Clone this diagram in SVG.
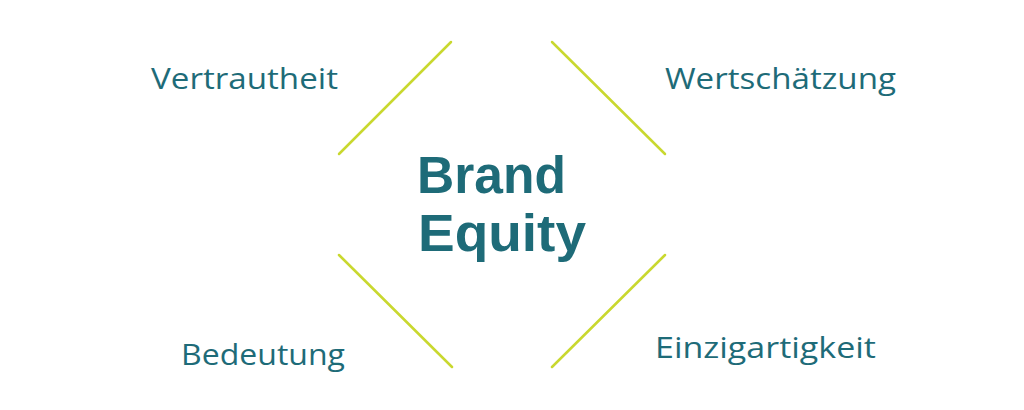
<svg xmlns="http://www.w3.org/2000/svg" width="1024" height="410" viewBox="0 0 1024 410">
<style>
.lbl{font-family:"Open Sans","Noto Sans",sans-serif;font-size:29px;fill:#1e6b78;}
.ctr{font-family:"Liberation Sans","Open Sans",sans-serif;font-size:51px;font-weight:700;fill:#1e6b78;}
.conn line{stroke:#c9d82f;stroke-width:2.5;stroke-linecap:round;}
</style>
<rect width="1024" height="410" fill="#ffffff"/>
<g id="connectors" class="conn">
<line x1="339" y1="154" x2="451" y2="42"/>
<line x1="552" y1="42" x2="665" y2="154"/>
<line x1="339" y1="255" x2="452" y2="367"/>
<line x1="665" y1="255" x2="552" y2="367"/>
</g>
<g id="brand-equity">
<text class="ctr" x="417" y="193" textLength="149" lengthAdjust="spacingAndGlyphs">Brand</text>
<text class="ctr" x="418" y="251" textLength="168" lengthAdjust="spacingAndGlyphs">Equity</text>
</g>
<g id="vertrautheit"><text class="lbl" x="151" y="89" textLength="187" lengthAdjust="spacingAndGlyphs">Vertrautheit</text></g>
<g id="wertschaetzung"><text class="lbl" x="665" y="89" textLength="231" lengthAdjust="spacingAndGlyphs">Wertschätzung</text></g>
<g id="bedeutung"><text class="lbl" x="181" y="365" textLength="164" lengthAdjust="spacingAndGlyphs">Bedeutung</text></g>
<g id="einzigartigkeit"><text class="lbl" x="655" y="358" textLength="221" lengthAdjust="spacingAndGlyphs">Einzigartigkeit</text></g>
</svg>
